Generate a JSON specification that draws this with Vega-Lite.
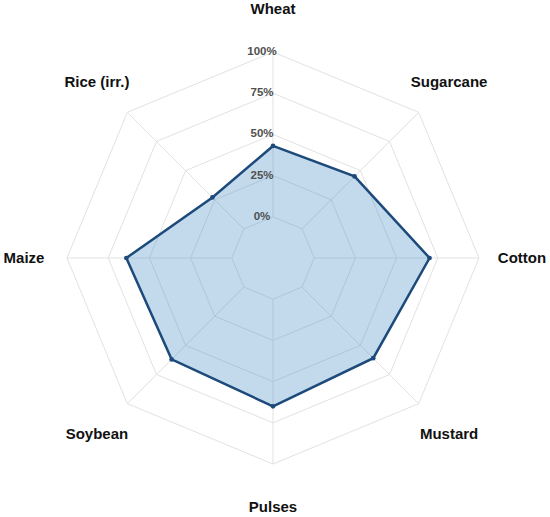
{
  "$schema": "https://vega.github.io/schema/vega-lite/v6.json",
  "width": 550,
  "height": 517,
  "autosize": {"type": "none"},
  "padding": 0,
  "background": "white",
  "config": {"view": {"stroke": null}},
  "datasets": {
    "crops": [
      {"crop": "Wheat", "order": 0, "value": 43},
      {"crop": "Sugarcane", "order": 1, "value": 45},
      {"crop": "Cotton", "order": 2, "value": 70},
      {"crop": "Mustard", "order": 3, "value": 61},
      {"crop": "Pulses", "order": 4, "value": 65},
      {"crop": "Soybean", "order": 5, "value": 62},
      {"crop": "Maize", "order": 6, "value": 64},
      {"crop": "Rice (irr.)", "order": 7, "value": 27}
    ],
    "levels": [
      {"level": 0, "label": "0%"},
      {"level": 25, "label": "25%"},
      {"level": 50, "label": "50%"},
      {"level": 75, "label": "75%"},
      {"level": 100, "label": "100%"}
    ]
  },
  "layer": [
    {
      "data": {"name": "crops"},
      "transform": [
        {"calculate": "[0, 25, 50, 75, 100]", "as": "lv"},
        {"flatten": ["lv"]},
        {"calculate": "(datum.lv + 25) * sin(datum.order * PI / 4)", "as": "x"},
        {"calculate": "(datum.lv + 25) * cos(datum.order * PI / 4)", "as": "y"}
      ],
      "mark": {"type": "line", "interpolate": "linear-closed", "stroke": "#e2e2e2", "strokeWidth": 1},
      "encoding": {
        "x": {"field": "x", "type": "quantitative", "scale": {"domain": [-165.65, 168.08], "nice": false, "zero": false}, "axis": null},
        "y": {"field": "y", "type": "quantitative", "scale": {"domain": [-157.16, 156.55], "nice": false, "zero": false}, "axis": null},
        "detail": {"field": "lv", "type": "nominal"},
        "order": {"field": "order", "type": "quantitative"}
      }
    },
    {
      "data": {"name": "crops"},
      "transform": [
        {"calculate": "25 * sin(datum.order * PI / 4)", "as": "x"},
        {"calculate": "25 * cos(datum.order * PI / 4)", "as": "y"},
        {"calculate": "125 * sin(datum.order * PI / 4)", "as": "x2"},
        {"calculate": "125 * cos(datum.order * PI / 4)", "as": "y2"}
      ],
      "mark": {"type": "rule", "stroke": "#e2e2e2", "strokeWidth": 1},
      "encoding": {
        "x": {"field": "x", "type": "quantitative"},
        "y": {"field": "y", "type": "quantitative"},
        "x2": {"field": "x2"},
        "y2": {"field": "y2"}
      }
    },
    {
      "data": {"name": "crops"},
      "transform": [
        {"calculate": "(datum.value + 25) * sin(datum.order * PI / 4)", "as": "x"},
        {"calculate": "(datum.value + 25) * cos(datum.order * PI / 4)", "as": "y"}
      ],
      "layer": [
        {
          "mark": {"type": "line", "interpolate": "linear-closed", "fill": "#4a90c8", "fillOpacity": 0.33, "stroke": "#1c4a7a", "strokeWidth": 2.5, "strokeJoin": "miter"},
          "encoding": {
            "x": {"field": "x", "type": "quantitative"},
            "y": {"field": "y", "type": "quantitative"},
            "order": {"field": "order", "type": "quantitative"}
          }
        },
        {
          "mark": {"type": "point", "filled": true, "size": 22, "color": "#1c4a7a", "opacity": 1},
          "encoding": {
            "x": {"field": "x", "type": "quantitative"},
            "y": {"field": "y", "type": "quantitative"}
          }
        }
      ]
    },
    {
      "data": {"name": "crops"},
      "transform": [
        {"calculate": "151.1 * sin(datum.order * PI / 4)", "as": "x"},
        {"calculate": "151.1 * cos(datum.order * PI / 4)", "as": "y"}
      ],
      "mark": {"type": "text", "font": "Liberation Sans", "fontWeight": "bold", "fontSize": 15, "color": "#111111", "align": "center", "baseline": "middle"},
      "encoding": {
        "x": {"field": "x", "type": "quantitative"},
        "y": {"field": "y", "type": "quantitative"},
        "text": {"field": "crop", "type": "nominal"}
      }
    },
    {
      "data": {"name": "levels"},
      "transform": [
        {"calculate": "0", "as": "x"},
        {"calculate": "datum.level + 25", "as": "y"}
      ],
      "mark": {"type": "text", "font": "Liberation Sans", "fontWeight": "bold", "fontSize": 11.5, "color": "#505050", "align": "center", "baseline": "middle", "dx": -11},
      "encoding": {
        "x": {"field": "x", "type": "quantitative"},
        "y": {"field": "y", "type": "quantitative"},
        "text": {"field": "label", "type": "nominal"}
      }
    }
  ]
}
